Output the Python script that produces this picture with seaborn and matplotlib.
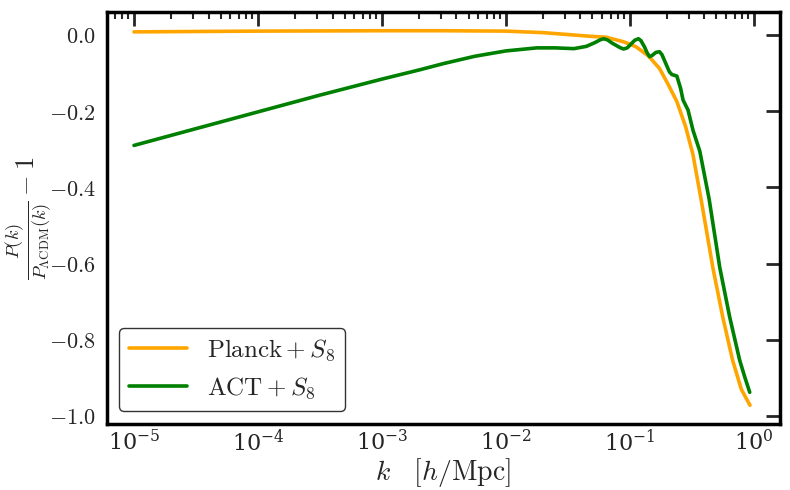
import numpy as np
import pandas as pd
import matplotlib
matplotlib.use('Agg')
import matplotlib.pyplot as plt
import seaborn as sns
from matplotlib.ticker import FuncFormatter, MultipleLocator, LogLocator

# log10(k) positions and P(k)/P_LCDM(k) - 1
logk_planck = [-5.0, -4.0, -3.0, -2.5, -2.0, -1.7, -1.5, -1.3, -1.19, -1.05, -0.95,
               -0.85, -0.76, -0.69, -0.62, -0.55, -0.49, -0.42, -0.33, -0.25,
               -0.17, -0.10, -0.03]
ratio_planck = [0.008, 0.010, 0.011, 0.011, 0.010, 0.006, 0.001, -0.004, -0.006,
                -0.018, -0.031, -0.055, -0.088, -0.130, -0.175, -0.240, -0.314,
                -0.440, -0.610, -0.740, -0.854, -0.930, -0.972]

logk_act = [-5.0, -4.5, -4.0, -3.5, -3.0, -2.7, -2.5, -2.25, -2.0, -1.75, -1.6, -1.45,
            -1.35, -1.28, -1.24, -1.21, -1.18, -1.14, -1.08, -1.05, -1.02, -0.99,
            -0.96, -0.93, -0.91, -0.88, -0.86, -0.84, -0.82, -0.79, -0.76, -0.74,
            -0.72, -0.68, -0.66, -0.62, -0.59, -0.57, -0.53, -0.49, -0.435, -0.36,
            -0.274, -0.194, -0.113, -0.07, -0.032]
ratio_act = [-0.290, -0.246, -0.202, -0.158, -0.116, -0.092, -0.075, -0.056, -0.042,
             -0.034, -0.034, -0.036, -0.030, -0.020, -0.013, -0.010, -0.013, -0.022,
             -0.033, -0.037, -0.034, -0.024, -0.014, -0.010, -0.015, -0.032, -0.047,
             -0.057, -0.054, -0.046, -0.044, -0.052, -0.067, -0.097, -0.104, -0.108,
             -0.140, -0.171, -0.197, -0.250, -0.305, -0.430, -0.610, -0.740, -0.854,
             -0.900, -0.938]

labels = [r'$\mathrm{Planck}+S_8$', r'$\mathrm{ACT}+S_8$']
colors = ['orange', 'green']

df = pd.concat([
    pd.DataFrame({'k': np.power(10.0, logk_planck), 'ratio': ratio_planck, 'model': labels[0]}),
    pd.DataFrame({'k': np.power(10.0, logk_act), 'ratio': ratio_act, 'model': labels[1]}),
])

sns.set_style('white')
plt.rcParams['mathtext.fontset'] = 'cm'
plt.rcParams['font.family'] = ['DejaVu Serif']

fig = plt.figure(figsize=(7.9, 4.9), dpi=100)
ax = fig.add_axes([0.1354, 0.1347, 0.8516, 0.8408])

sns.lineplot(data=df, x='k', y='ratio', hue='model', palette=colors,
             linewidth=2.6, ax=ax, sort=False)
ax.set_xscale('log')
ax.set_xlim(10 ** -5.218, 10 ** 0.21)

ax.set_xlabel(r'$k\quad[h/\mathrm{Mpc}]$', fontsize=20, labelpad=0)
ax.set_ylabel(r'$\frac{P(k)}{P_{\Lambda\mathrm{CDM}}(k)}-1$', fontsize=19, labelpad=-3)

ax.yaxis.set_major_locator(MultipleLocator(0.2))
ax.yaxis.set_major_formatter(FuncFormatter(lambda v, p: r'$%.1f$' % v))
ax.xaxis.set_major_locator(LogLocator(base=10, numticks=20))
ax.xaxis.set_minor_locator(LogLocator(base=10, subs=np.arange(2, 10), numticks=100))

ax.tick_params(which='both', direction='in', top=True, right=True, labelsize=16)
ax.tick_params(which='major', length=10, width=2)
ax.tick_params(which='minor', length=5, width=1.5)
ax.tick_params(axis='x', which='major', pad=4)
ax.tick_params(axis='y', which='major', pad=8)
for s in ax.spines.values():
    s.set_linewidth(2.5)
    s.set_color('black')

leg = ax.legend(loc='lower left', fontsize=18, frameon=True, fancybox=True,
                edgecolor='black', handlelength=2.3, handletextpad=0.8)
leg.get_frame().set_linewidth(1.0)
for line in leg.get_lines():
    line.set_linewidth(2.6)

fig.savefig('out.png', dpi=100)
